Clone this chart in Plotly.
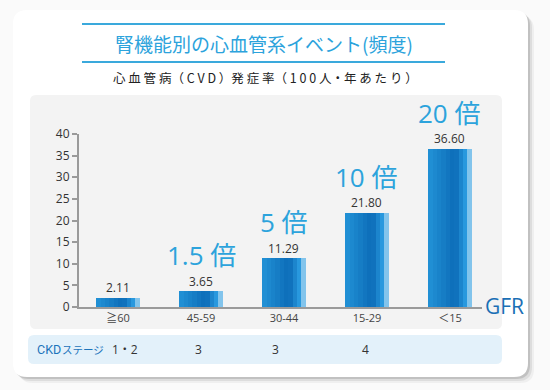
import plotly.graph_objects as go

# ---- data ----
gfr_categories = ["≧60", "45-59", "30-44", "15-29", "＜15"]
cvd_rates = [2.11, 3.65, 11.29, 21.80, 36.60]
multipliers = ["", "1.5 倍", "5 倍", "10 倍", "20 倍"]
ckd_stages = ["1・2", "3", "3", "4", ""]
y_ticks = [0, 5, 10, 15, 20, 25, 30, 35, 40]

title_text = "腎機能別の心血管系イベント(頻度)"
subtitle_text = "心 血 管 病（ C V D ）発 症 率（ 1 0 0 人・年 あ た り ）"
ckd_label_a = "CKD"
ckd_label_b = "ステージ"
axis_label = "GFR"

# ---- layout geometry (pixels) ----
W, H = 550, 390
L, R, T, B = 79, 68, 134, 83
PW, PH = W - L - R, H - T - B

def px(X):
    return (X - L) / PW

def py(Y):
    return (H - B - Y) / PH

def rrect(X0, Y0, X1, Y1, r):
    x0, x1 = px(X0), px(X1)
    y0, y1 = py(Y0), py(Y1)
    rx, ry = r / PW, r / PH
    return (f"M {x0+rx},{y0} L {x1-rx},{y0} Q {x1},{y0} {x1},{y0-ry} "
            f"L {x1},{y1+ry} Q {x1},{y1} {x1-rx},{y1} "
            f"L {x0+rx},{y1} Q {x0},{y1} {x0},{y1+ry} "
            f"L {x0},{y0-ry} Q {x0},{y0} {x0+rx},{y0} Z")

CJK = "Noto Sans CJK JP"
NUM = "Open Sans, Noto Sans CJK JP"

fig = go.Figure()

# gradient bars built from nested slices (each runs to the bar's right edge)
stops = [(0.0, (34, 146, 214)), (0.62, (12, 108, 184)), (0.85, (40, 152, 222)), (1.0, (175, 218, 243))]

def interp(t):
    for (t0, c0), (t1, c1) in zip(stops[:-1], stops[1:]):
        if t0 <= t <= t1:
            f = (t - t0) / (t1 - t0)
            return "rgb(%d,%d,%d)" % tuple(round(a + (b - a) * f) for a, b in zip(c0, c1))
    return "rgb(%d,%d,%d)" % stops[-1][1]

BW = 0.52
N = 10
for i in range(N):
    t = (i + 0.5) / N
    c = interp(t)
    fig.add_trace(go.Bar(
        x=gfr_categories, y=cvd_rates,
        width=BW - i * BW / N, offset=-BW / 2 + i * BW / N,
        marker=dict(color=c, opacity=1, line=dict(width=0)),
        hoverinfo="skip", showlegend=False,
    ))

shapes = []
# card shadow
for k, op in [(6, 0.08), (4, 0.14), (2, 0.25)]:
    shapes.append(dict(type="path", xref="paper", yref="paper", layer="below",
                       path=rrect(13 + k, 10 + k, 528 + k, 377 + k, 14),
                       fillcolor=f"rgba(110,110,110,{op})", line=dict(width=0)))
# card
shapes.append(dict(type="path", xref="paper", yref="paper", layer="below",
                   path=rrect(13, 10, 528, 377, 14), fillcolor="white", line=dict(width=0)))
# gray chart panel
shapes.append(dict(type="path", xref="paper", yref="paper", layer="below",
                   path=rrect(30, 95, 502, 329, 6), fillcolor="#f3f3f3", line=dict(width=0)))
# CKD row
shapes.append(dict(type="path", xref="paper", yref="paper", layer="below",
                   path=rrect(28, 335, 502, 364, 6), fillcolor="#e3f1fa", line=dict(width=0)))
# title lines
for Y in (24, 62):
    shapes.append(dict(type="line", xref="paper", yref="paper",
                       x0=px(82), x1=px(445), y0=py(Y), y1=py(Y),
                       line=dict(color="#3aa9dc", width=2)))

annotations = [
    dict(text=title_text, x=px(264), y=py(43), xref="paper", yref="paper", showarrow=False,
         font=dict(family=CJK, size=19, color="#2ca3dc"), xanchor="center", yanchor="middle"),
    dict(text=subtitle_text, x=px(265), y=py(77), xref="paper", yref="paper", showarrow=False,
         font=dict(family=CJK, size=12.5, color="#222222"), xanchor="center", yanchor="middle"),
    dict(text=axis_label, x=px(483), y=py(306), xref="paper", yref="paper", showarrow=False,
         font=dict(family="Open Sans", size=21, color="#1a6fb5"), xanchor="left", yanchor="middle"),
    dict(text=ckd_label_a, x=px(35), y=py(349), xref="paper", yref="paper", showarrow=False,
         font=dict(family="Liberation Sans Narrow, Roboto", size=12.5, color="#1c74bb"),
         xanchor="left", yanchor="middle"),
    dict(text=ckd_label_b, x=px(60), y=py(349), xref="paper", yref="paper", showarrow=False,
         font=dict(family=CJK, size=10.5, color="#1c74bb"), xanchor="left", yanchor="middle"),
]

# value labels
for cat, val in zip(gfr_categories, cvd_rates):
    annotations.append(dict(text=f"{val:.2f}", x=cat, y=val, xref="x", yref="y", yshift=10,
                            showarrow=False, xanchor="center", yanchor="middle",
                            font=dict(family=NUM, size=12, color="#333333")))

for cat, val, m in zip(gfr_categories, cvd_rates, multipliers):
    if m:
        annotations.append(dict(text=m, x=cat, y=val, xref="x", yref="y", yshift=36,
                                showarrow=False, xanchor="center", yanchor="middle",
                                font=dict(family=NUM, size=26, color="#2ca3dc")))

stage_shift = [7, -3, -8, -1, 0]
for cat, st, sh in zip(gfr_categories, ckd_stages, stage_shift):
    if st:
        annotations.append(dict(text=st, x=cat, y=py(349), xref="x", yref="paper", xshift=sh,
                                showarrow=False, xanchor="center", yanchor="middle",
                                font=dict(family=NUM, size=12, color="#333333")))

fig.update_layout(
    width=W, height=H,
    margin=dict(l=L, r=R, t=T, b=B),
    paper_bgcolor="#fafafa", plot_bgcolor="rgba(0,0,0,0)",
    barmode="overlay", bargap=0,
    shapes=shapes, annotations=annotations,
    showlegend=False,
)
fig.update_xaxes(
    type="category", range=[-0.47, 4.386],
    showline=True, linecolor="#9a9a9a", linewidth=2,
    ticks="", showgrid=False, zeroline=False,
    tickfont=dict(family=NUM, size=11, color="#444444"),
)
fig.update_yaxes(
    range=[0, 40], tickvals=y_ticks,
    showline=True, linecolor="#9a9a9a", linewidth=2,
    ticks="outside", ticklen=5, tickcolor="#9a9a9a", tickwidth=1.5,
    showgrid=False, zeroline=False,
    tickfont=dict(family=NUM, size=12, color="#333333"),
)

fig.write_html("out.html", config={"displayModeBar": False},
               post_script="document.body.style.margin='0';document.body.style.padding='0';")
